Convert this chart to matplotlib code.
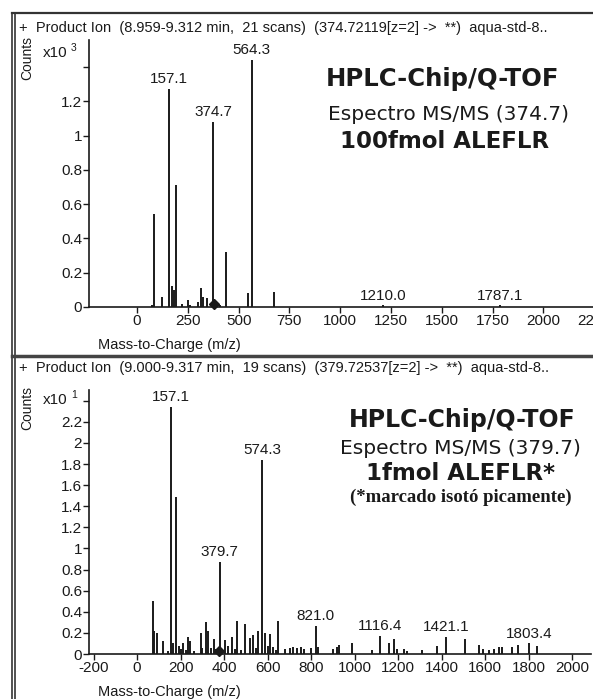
import matplotlib
matplotlib.use("Agg")
import matplotlib.pyplot as plt
from matplotlib.lines import Line2D

W, H = 593, 699

# top spectrum: 100 fmol ALEFLR, precursor 374.7 (counts x10^3)
top_mz = [72, 84, 125, 157.1, 172, 182, 192, 220, 249, 261, 302, 315, 323, 346,
          374.7, 395, 408, 438, 548, 564.3, 674, 1210.0, 1787.1]
top_int = [0.01, 0.54, 0.06, 1.27, 0.12, 0.10, 0.71, 0.02, 0.04, 0.01, 0.03, 0.11, 0.06, 0.05,
           1.08, 0.02, 0.01, 0.32, 0.08, 1.44, 0.09, 0.01, 0.01]
top_labels = ["157.1", "374.7", "564.3", "1210.0", "1787.1"]
top_precursor = 378

# bottom spectrum: 1 fmol ALEFLR* (isotope labelled), precursor 379.7 (counts x10^1)
bot_mz = [72, 80, 93, 121, 140, 157.1, 165, 180, 193, 200, 210, 225, 236, 244, 260, 293, 300,
          317, 328, 340, 354, 365, 379.7, 392, 405, 417, 435, 450, 461, 480, 497, 517, 532,
          545, 558, 574.3, 589, 600, 612, 627, 640, 647, 681, 704, 719, 735, 753, 768, 799,
          821.0, 834, 903, 918, 930, 987, 1080, 1116.4, 1156, 1179, 1194, 1225, 1241, 1310,
          1379, 1421.1, 1509, 1570, 1590, 1616, 1639, 1662, 1678, 1724, 1750, 1803.4, 1841]
bot_int = [0.50, 0.22, 0.20, 0.12, 0.03, 2.34, 0.10, 1.49, 0.08, 0.05, 0.10, 0.04, 0.16, 0.12, 0.03, 0.20, 0.06,
           0.30, 0.22, 0.06, 0.14, 0.05, 0.87, 0.04, 0.13, 0.08, 0.16, 0.05, 0.31, 0.04, 0.28, 0.15, 0.18,
           0.06, 0.22, 1.84, 0.20, 0.08, 0.19, 0.07, 0.04, 0.31, 0.05, 0.06, 0.07, 0.06, 0.07, 0.05, 0.06,
           0.27, 0.07, 0.05, 0.07, 0.09, 0.10, 0.04, 0.17, 0.10, 0.14, 0.05, 0.05, 0.03, 0.04,
           0.08, 0.16, 0.14, 0.09, 0.05, 0.04, 0.05, 0.07, 0.07, 0.07, 0.09, 0.10, 0.08]
bot_labels = ["157.1", "574.3", "379.7", "821.0", "1116.4", "1421.1", "1803.4"]
bot_precursor = 378

top_header = "+  Product Ion  (8.959-9.312 min,  21 scans)  (374.72119[z=2] ->  **)  aqua-std-8.."
bot_header = "+  Product Ion  (9.000-9.317 min,  19 scans)  (379.72537[z=2] ->  **)  aqua-std-8.."

plt.rcParams["font.family"] = ["Liberation Sans", "DejaVu Sans"]
plt.rcParams["axes.unicode_minus"] = False
ink = "#1a1a1a"


def fx(px):
    return px / W


def fy(py):
    return 1 - py / H


def draw_spectrum(ax, mz, inten, labels, prec, ylim, xlim, xticks, yticks, ytick_labels):
    ax.vlines(mz, 0, inten, color=ink, lw=1.4)
    for lab in labels:
        i = mz.index(float(lab))
        ax.annotate(lab, (mz[i], inten[i]), xytext=(0, 2), textcoords="offset points",
                    ha="center", va="bottom", fontsize=11, color=ink)
    ax.plot([prec], [ylim[1] * 0.012], marker="D", ms=5, color=ink, clip_on=False)
    ax.set_xlim(*xlim)
    ax.set_ylim(*ylim)
    ax.set_xticks(xticks)
    ax.set_yticks(yticks)
    ax.set_yticklabels(ytick_labels)
    ax.tick_params(labelsize=11, length=4, width=1, pad=1, colors=ink)
    for s in ["top", "right"]:
        ax.spines[s].set_visible(False)
    for s in ["left", "bottom"]:
        ax.spines[s].set_color(ink)
        ax.spines[s].set_linewidth(1.2)
    ax.patch.set_alpha(0)


fig = plt.figure(figsize=(W / 100, H / 100), dpi=100)

# top panel
ax1 = fig.add_axes([fx(89), fy(307), fx(511), 267 / H])
yt = [0, 0.2, 0.4, 0.6, 0.8, 1.0, 1.2, 1.4]
draw_spectrum(ax1, top_mz, top_int, top_labels, top_precursor, (0, 1.557), (-236, 2278),
              list(range(0, 2251, 250)), yt, ["%g" % v for v in yt[:-1]] + [""])

# bottom panel
ax2 = fig.add_axes([fx(89), fy(654), fx(502), 264 / H])
yt = [round(0.2 * i, 1) for i in range(13)]
draw_spectrum(ax2, bot_mz, bot_int, bot_labels, bot_precursor, (0, 2.502), (-221, 2087),
              list(range(-200, 2001, 200)), yt, ["%g" % v for v in yt[:-1]] + [""])

# panel frames
for x in [12, 15]:
    fig.add_artist(Line2D([fx(x), fx(x)], [fy(13), 0], color="#333333", lw=1.2))
fig.add_artist(Line2D([fx(12), 1], [fy(13), fy(13)], color="#333333", lw=1.6))
fig.add_artist(Line2D([fx(12), 1], [fy(356), fy(356)], color="#444444", lw=2.5))

# headers and axis captions
for hdr, y in [(top_header, 28), (bot_header, 368)]:
    fig.text(fx(19), fy(y), hdr, fontsize=10.5, va="center", ha="left", color=ink)
for y, cy, exp in [(53, 58, "3"), (400, 408, "1")]:
    fig.text(fx(27), fy(cy), "Counts", rotation=90, fontsize=10, ha="center", va="center", color=ink)
    fig.text(fx(43), fy(y), "x10", fontsize=11, ha="left", va="center", color=ink)
    fig.text(fx(71), fy(y - 5), exp, fontsize=7.5, ha="left", va="center", color=ink)
for y in [345, 692]:
    fig.text(fx(169), fy(y), "Mass-to-Charge (m/z)", fontsize=10.5, ha="center", va="center", color=ink)

# annotation text in the panels
big = ["DejaVu Sans"]
fig.text(fx(443), fy(79), "HPLC-Chip/Q-TOF", family=big, weight="bold", fontsize=17.5, ha="center", va="center", color=ink)
fig.text(fx(448), fy(114), "Espectro MS/MS (374.7)", family=big, fontsize=14.5, ha="center", va="center", color=ink)
fig.text(fx(445), fy(142), "100fmol ALEFLR", family=big, weight="bold", fontsize=16.5, ha="center", va="center", color=ink)

fig.text(fx(462), fy(420), "HPLC-Chip/Q-TOF", family=big, weight="bold", fontsize=17, ha="center", va="center", color=ink)
fig.text(fx(460), fy(449), "Espectro MS/MS (379.7)", family=big, fontsize=14.5, ha="center", va="center", color=ink)
fig.text(fx(461), fy(473), "1fmol ALEFLR*", family=big, weight="bold", fontsize=16.5, ha="center", va="center", color=ink)
fig.text(fx(461), fy(497), "(*marcado isotó picamente)", family=["Liberation Serif"], weight="bold",
         fontsize=13.5, ha="center", va="center", color=ink)

fig.savefig("out.png", dpi=100)
